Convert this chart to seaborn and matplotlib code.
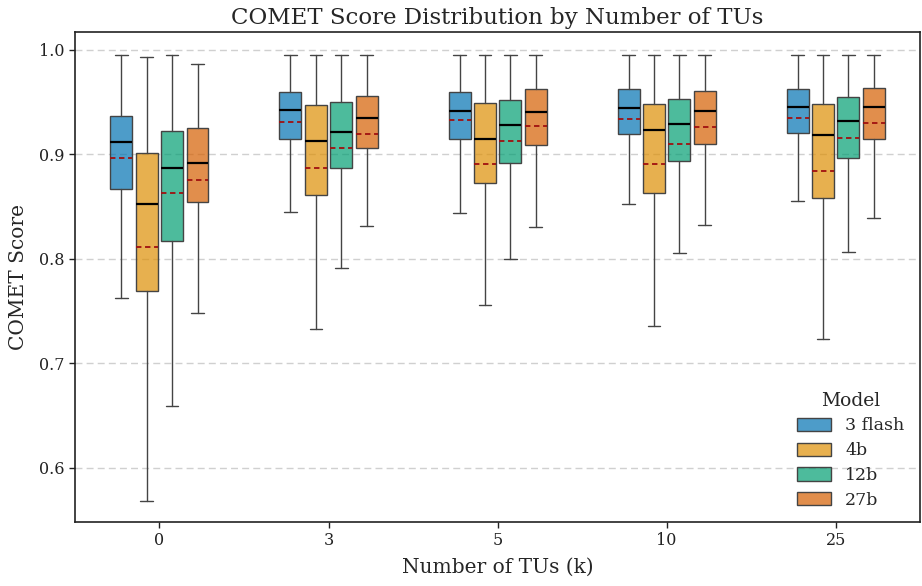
import matplotlib
matplotlib.use("Agg")
import matplotlib.pyplot as plt
from matplotlib.patches import Patch
import seaborn as sns

# ---- data ----
tu_labels = ["0", "3", "5", "10", "25"]
models = ["3 flash", "4b", "12b", "27b"]

# per model: lists over TU groups
whislo = {
    "3 flash": [0.762, 0.845, 0.844, 0.852, 0.855],
    "4b":      [0.568, 0.733, 0.756, 0.736, 0.723],
    "12b":     [0.659, 0.791, 0.800, 0.805, 0.806],
    "27b":     [0.748, 0.831, 0.830, 0.832, 0.839],
}
q1 = {
    "3 flash": [0.867, 0.915, 0.915, 0.919, 0.920],
    "4b":      [0.769, 0.861, 0.872, 0.863, 0.858],
    "12b":     [0.817, 0.887, 0.892, 0.894, 0.896],
    "27b":     [0.854, 0.906, 0.909, 0.910, 0.915],
}
med = {
    "3 flash": [0.912, 0.942, 0.941, 0.944, 0.945],
    "4b":      [0.852, 0.913, 0.915, 0.923, 0.918],
    "12b":     [0.887, 0.921, 0.928, 0.929, 0.932],
    "27b":     [0.892, 0.935, 0.940, 0.941, 0.945],
}
mean = {
    "3 flash": [0.896, 0.931, 0.933, 0.934, 0.935],
    "4b":      [0.811, 0.887, 0.891, 0.891, 0.884],
    "12b":     [0.863, 0.906, 0.913, 0.910, 0.916],
    "27b":     [0.875, 0.919, 0.927, 0.926, 0.930],
}
q3 = {
    "3 flash": [0.937, 0.960, 0.960, 0.962, 0.962],
    "4b":      [0.901, 0.947, 0.949, 0.948, 0.948],
    "12b":     [0.922, 0.950, 0.952, 0.953, 0.955],
    "27b":     [0.925, 0.956, 0.962, 0.961, 0.963],
}
whishi = {
    "3 flash": [0.995, 0.995, 0.995, 0.995, 0.995],
    "4b":      [0.993, 0.995, 0.995, 0.995, 0.995],
    "12b":     [0.995, 0.995, 0.995, 0.995, 0.995],
    "27b":     [0.986, 0.995, 0.995, 0.995, 0.995],
}

# ---- style ----
sns.set_theme(style="ticks")
plt.rcParams["font.family"] = ["DejaVu Serif"]
palette = sns.color_palette("colorblind", 4)

fig, ax = plt.subplots(figsize=(9.22, 5.86), dpi=100)
fig.subplots_adjust(left=0.0813, right=0.998, top=0.9454, bottom=0.1092)

offsets = [-0.225, -0.075, 0.075, 0.225]
edge = "#444444"
for m_i, m in enumerate(models):
    stats = []
    for g in range(len(tu_labels)):
        stats.append(dict(med=med[m][g], q1=q1[m][g], q3=q3[m][g],
                          whislo=whislo[m][g], whishi=whishi[m][g],
                          mean=mean[m][g], fliers=[], label=""))
    positions = [g + offsets[m_i] for g in range(len(tu_labels))]
    ax.bxp(stats, positions=positions, widths=0.13, patch_artist=True,
           showmeans=True, meanline=True, showfliers=False,
           capwidths=0.075,
           boxprops=dict(facecolor=(*palette[m_i], 0.7), edgecolor=edge, linewidth=1.0),
           medianprops=dict(color="black", linewidth=1.6),
           meanprops=dict(color="#a01010", linestyle=(0, (3, 2)), linewidth=1.3),
           whiskerprops=dict(color=edge, linewidth=1.0),
           capprops=dict(color=edge, linewidth=1.0),
           manage_ticks=False, zorder=3)

ax.set_xlim(-0.5, len(tu_labels) - 0.5)
ax.set_ylim(0.548, 1.017)
ax.set_xticks(range(len(tu_labels)))
ax.set_xticklabels(tu_labels)
ax.set_yticks([0.6, 0.7, 0.8, 0.9, 1.0])
ax.set_yticklabels(["0.6", "0.7", "0.8", "0.9", "1.0"])
ax.tick_params(axis="both", labelsize=11.5, colors="#222222", length=4, width=1)

ax.yaxis.grid(True, linestyle=(0, (5, 3)), color="#d0d0d0", linewidth=1.0, zorder=0)
ax.set_axisbelow(True)
for s in ax.spines.values():
    s.set_visible(True)
    s.set_color("#222222")
    s.set_linewidth(1.2)

ax.set_title("COMET Score Distribution by Number of TUs", fontsize=16.5, pad=6)
ax.set_xlabel("Number of TUs (k)", fontsize=14.5, labelpad=6)
ax.set_ylabel("COMET Score", fontsize=14.5, labelpad=8)

handles = [Patch(facecolor=(*palette[i], 0.7), edgecolor=edge, linewidth=1.0, label=m)
           for i, m in enumerate(models)]
leg = ax.legend(handles=handles, title="Model", loc="lower right", frameon=False,
                fontsize=12.5, title_fontsize=13.5, handlelength=2.0, handleheight=0.8,
                labelspacing=0.45, bbox_to_anchor=(1.0, -0.005))

fig.savefig("out.png", dpi=100)
